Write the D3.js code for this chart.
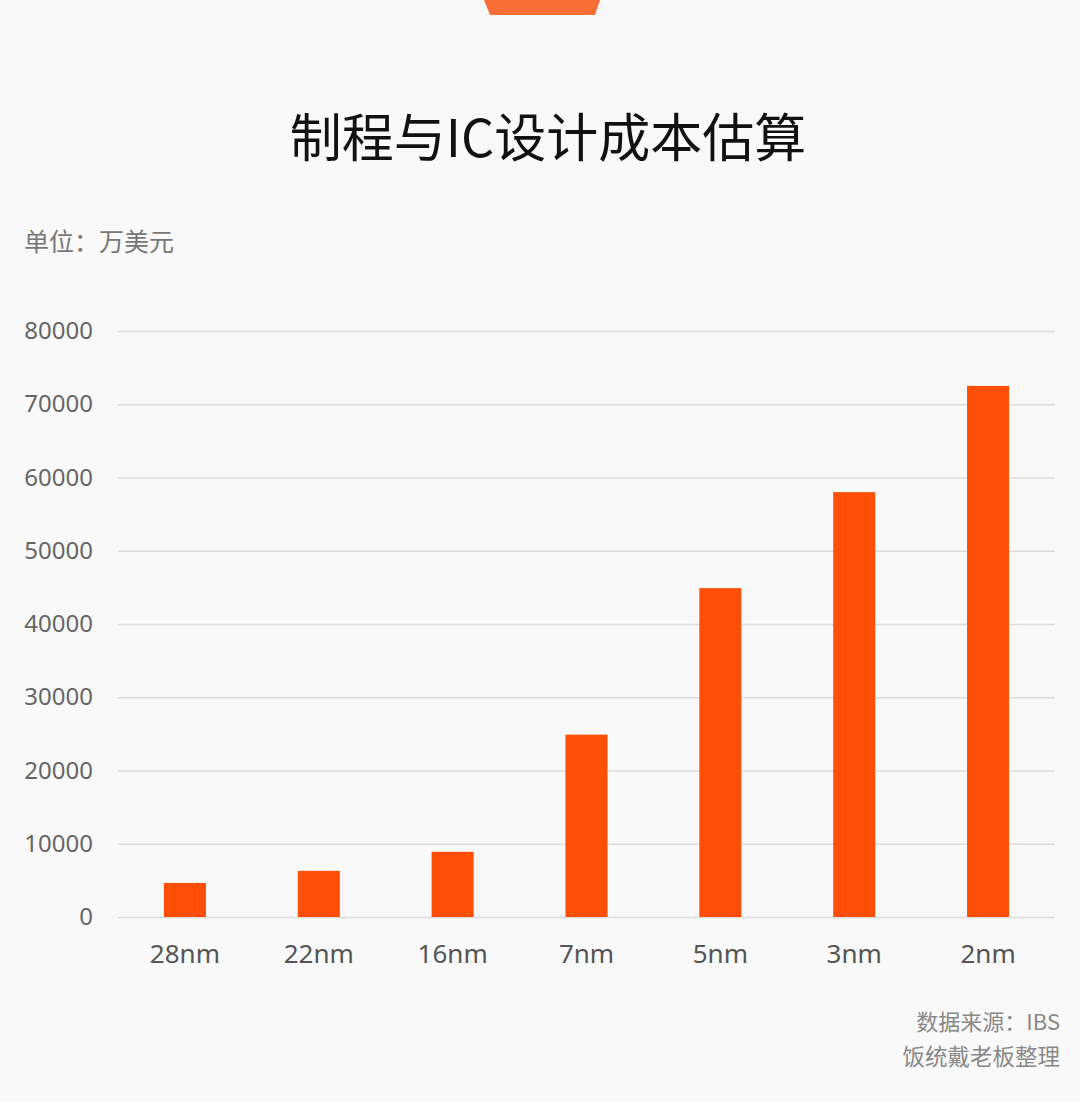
<!DOCTYPE html>
<html>
<head>
<meta charset="utf-8">
<script src="https://cdn.jsdelivr.net/npm/d3@7"></script>
<style>
  body { margin: 0; background: #f9f9f9; }
  svg { display: block; font-family: "Noto Sans CJK SC", "Noto Sans", sans-serif; }
</style>
</head>
<body>
<script>
// data
var nodes = ["28nm", "22nm", "16nm", "7nm", "5nm", "3nm", "2nm"];
var costs = [4650, 6300, 8900, 24900, 44900, 58000, 72500];
var yTicks = [0, 10000, 20000, 30000, 40000, 50000, 60000, 70000, 80000];

var w = 1080, h = 1102;
var svg = d3.select("body").append("svg").attr("width", w).attr("height", h);

svg.append("rect").attr("width", w).attr("height", h).attr("fill", "#f9f9f9");

// top tab
svg.append("path")
    .attr("d", "M484,0 L600,0 L595,15 L490,15 Z")
    .attr("fill", "#f86e36");

// title
svg.append("text")
    .text("制程与IC设计成本估算")
    .attr("x", w / 2 + 8)
    .attr("y", 157)
    .attr("text-anchor", "middle")
    .attr("font-size", "52px")
    .attr("fill", "#111");

svg.append("text")
    .text("单位：万美元")
    .attr("x", 24)
    .attr("y", 251)
    .attr("font-size", "25px")
    .attr("fill", "#777");

var x = d3.scaleBand()
    .domain(nodes)
    .range([118, 1055])
    .paddingInner(0.686)
    .paddingOuter(0.343);

var y = d3.scaleLinear()
    .domain([0, 80000])
    .range([917, 331]);

// gridlines
var yAxis = d3.axisLeft(y).tickValues(yTicks).tickFormat(d3.format("d"))
    .tickSize(-(1055 - 118)).tickPadding(25);
var gy = svg.append("g")
    .attr("transform", "translate(118,0)")
    .call(yAxis);
gy.select(".domain").remove();
gy.selectAll(".tick line").attr("stroke", "#dcdcdc").attr("stroke-width", 1.5);
gy.selectAll(".tick text")
    .attr("font-size", "24px")
    .attr("fill", "#666")
    .attr("font-family", "Noto Sans, sans-serif");

// bars
svg.selectAll("rect.bar")
    .data(costs)
    .enter()
    .append("rect")
    .attr("class", "bar")
    .attr("x", (d, i) => x(nodes[i]))
    .attr("y", (d) => y(d))
    .attr("width", x.bandwidth())
    .attr("height", (d) => y(0) - y(d))
    .attr("fill", "#ff4e06");

// x axis
var gx = svg.append("g")
    .attr("transform", "translate(0,917)")
    .call(d3.axisBottom(x).tickSize(0).tickPadding(28));
gx.select(".domain").remove();
gx.selectAll(".tick text")
    .attr("font-size", "26px")
    .attr("fill", "#555")
    .attr("font-family", "Noto Sans, sans-serif");

// footer
svg.append("text")
    .text("数据来源：IBS")
    .attr("x", 1060)
    .attr("y", 1030)
    .attr("text-anchor", "end")
    .attr("font-size", "22px")
    .attr("fill", "#888");

svg.append("text")
    .text("饭统戴老板整理")
    .attr("x", 1060)
    .attr("y", 1065)
    .attr("text-anchor", "end")
    .attr("font-size", "22.5px")
    .attr("fill", "#888");
</script>
</body>
</html>
